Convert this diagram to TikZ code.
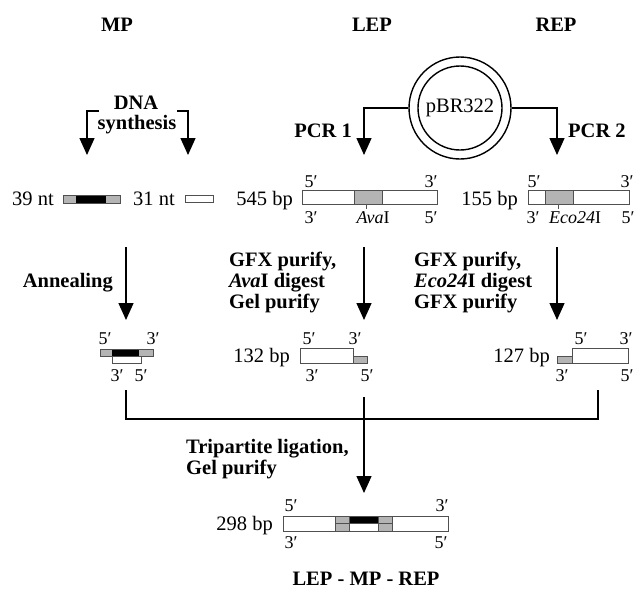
\documentclass[tikz,border=0pt]{standalone}
\usepackage{fontspec}
\setmainfont{Liberation Serif}
\usetikzlibrary{arrows.meta}
\definecolor{segray}{HTML}{B4B4B4}
\definecolor{edgegray}{HTML}{505050}
\tikzset{
  lbl/.style={font=\fontsize{20.5}{23}\selectfont, inner sep=0pt},
  blbl/.style={font=\fontsize{20.5}{23}\selectfont\bfseries, inner sep=0pt},
  endlbl/.style={font=\fontsize{18}{20}\selectfont, inner sep=0pt},
  flow/.style={line width=1.4pt, -{Triangle[width=15pt,length=17pt]}},
  strand/.style={draw=edgegray, line width=0.9pt},
  link/.style={line width=1.4pt},
}
\begin{document}
\begin{tikzpicture}[x=1pt,y=-1pt]
\useasboundingbox (0,0) rectangle (636,592);

% headings
\node[blbl, anchor=base] (hmp) at (117,31) {MP};
\node[blbl, anchor=base] (hlep) at (372,31) {LEP};
\node[blbl, anchor=base] (hrep) at (556,31) {REP};

% DNA synthesis
\node[blbl, anchor=base] (dna) at (136,109) {DNA};
\node[blbl, anchor=base] (synth) at (137,129) {synthesis};
\coordinate (bl0) at (99,111);
\coordinate (bl1) at (87,111);
\coordinate (bl2) at (87,155);
\coordinate (br0) at (177,111);
\coordinate (br1) at (188,111);
\coordinate (br2) at (188,155);
\draw[flow] (bl0) -- (bl1) -- (bl2);
\draw[flow] (br0) -- (br1) -- (br2);

% plasmid
\node[circle, draw, line width=1.4pt, minimum size=102pt, inner sep=0pt] (plasmid) at (460,108) {};
\node[circle, draw, line width=1.4pt, minimum size=84pt, inner sep=0pt, font=\fontsize{20.5}{23}\selectfont] (pbr) at (460,108) {pBR322};
\coordinate (pl1) at (364,108);
\coordinate (pl2) at (364,155);
\coordinate (pr1) at (557,108);
\coordinate (pr2) at (557,155);
\draw[flow] (plasmid.west) -- (pl1) -- (pl2);
\draw[flow] (plasmid.east) -- (pr1) -- (pr2);
\node[blbl, anchor=base east] (pcr1) at (352,137) {PCR 1};
\node[blbl, anchor=base west] (pcr2) at (568,137) {PCR 2};

% row 1 fragments
\node[lbl, anchor=base east] (n39) at (54,205) {39 nt};
\filldraw[strand, fill=segray] (63,195) rectangle (120,203);
\fill[black] (76,195) rectangle (106,203);
\draw[strand] (63,195) rectangle (120,203);
\node[lbl, anchor=base east] (n31) at (175,205) {31 nt};
\draw[strand, fill=white] (185,195) rectangle (213,202);

\node[lbl, anchor=base east] (n545) at (293,205) {545 bp};
\draw[strand] (302,190) rectangle (437,204);
\filldraw[strand, fill=segray] (354,190) rectangle (382,204);
\draw[strand] (366,204) -- (366,209);
\node[endlbl, anchor=base] (a5l) at (311,187) {5′};
\node[endlbl, anchor=base] (a3r) at (431,187) {3′};
\node[endlbl, anchor=base] (a3l) at (311,223) {3′};
\node[endlbl, anchor=base] (a5r) at (431,223) {5′};
\node[endlbl, anchor=base] (ava) at (373,223) {\textit{Ava}I};

\node[lbl, anchor=base east] (n155) at (518,205) {155 bp};
\draw[strand] (528,190) rectangle (629,204);
\filldraw[strand, fill=segray] (545,190) rectangle (573,204);
\draw[strand] (558,204) -- (558,209);
\node[endlbl, anchor=base] (b5l) at (534,187) {5′};
\node[endlbl, anchor=base] (b3r) at (627,187) {3′};
\node[endlbl, anchor=base] (b3l) at (533,223) {3′};
\node[endlbl, anchor=base] (b5r) at (628,223) {5′};
\node[endlbl, anchor=base] (eco) at (575,223) {\textit{Eco24}I};

% row 2 steps
\coordinate (m1) at (126,247);
\coordinate (m2) at (126,320);
\coordinate (l1) at (364,247);
\coordinate (l2) at (364,320);
\coordinate (r1) at (557,247);
\coordinate (r2) at (557,320);
\draw[flow] (m1) -- (m2);
\draw[flow] (l1) -- (l2);
\draw[flow] (r1) -- (r2);
\node[blbl, anchor=base east] (anneal) at (113,287) {Annealing};
\node[blbl, anchor=base west] (ls1) at (229,266) {GFX purify,};
\node[blbl, anchor=base west] (ls2) at (229,287) {\textit{Ava}I digest};
\node[blbl, anchor=base west] (ls3) at (229,308) {Gel purify};
\node[blbl, anchor=base west] (rs1) at (414,266) {GFX purify,};
\node[blbl, anchor=base west] (rs2) at (414,287) {\textit{Eco24}I digest};
\node[blbl, anchor=base west] (rs3) at (414,308) {GFX purify};

% row 2 fragments
\filldraw[strand, fill=segray] (100,349) rectangle (153,356);
\fill[black] (112,349) rectangle (139,356);
\draw[strand] (100,349) rectangle (153,356);
\draw[strand, fill=white] (112,356) rectangle (141,363);
\node[endlbl, anchor=base] (c5) at (105,344) {5′};
\node[endlbl, anchor=base] (c3) at (153,344) {3′};
\node[endlbl, anchor=base] (c3b) at (117,381) {3′};
\node[endlbl, anchor=base] (c5b) at (141,381) {5′};

\node[lbl, anchor=base east] (n132) at (290,362) {132 bp};
\draw[strand] (300,348) rectangle (353,363);
\filldraw[strand, fill=segray] (353,356) rectangle (367,363);
\node[endlbl, anchor=base] (d5) at (309,344) {5′};
\node[endlbl, anchor=base] (d3) at (355,344) {3′};
\node[endlbl, anchor=base] (d3b) at (312,381) {3′};
\node[endlbl, anchor=base] (d5b) at (367,381) {5′};

\node[lbl, anchor=base east] (n127) at (550,362) {127 bp};
\draw[strand] (572,348) rectangle (628,363);
\filldraw[strand, fill=segray] (557,356) rectangle (572,363);
\node[endlbl, anchor=base] (e5) at (581,344) {5′};
\node[endlbl, anchor=base] (e3) at (626,344) {3′};
\node[endlbl, anchor=base] (e3b) at (562,381) {3′};
\node[endlbl, anchor=base] (e5b) at (627,381) {5′};

% ligation
\coordinate (j1) at (126,390);
\coordinate (j2) at (126,419);
\coordinate (j3) at (598,419);
\coordinate (j4) at (598,390);
\draw[link] (j1) -- (j2) -- (j3) -- (j4);
\coordinate (f1) at (364,397);
\coordinate (f2) at (364,493);
\draw[flow] (f1) -- (f2);
\node[blbl, anchor=base west] (lig1) at (186,453) {Tripartite ligation,};
\node[blbl, anchor=base west] (lig2) at (186,474) {Gel purify};

% product
\node[lbl, anchor=base east] (n298) at (273,530) {298 bp};
\draw[strand] (283,516) rectangle (448,531);
\filldraw[strand, fill=segray] (335,516) rectangle (349,531);
\draw[strand] (335,523.5) -- (349,523.5);
\fill[black] (349,516) rectangle (378,523.5);
\draw[strand] (349,516) rectangle (378,531);
\draw[strand] (349,523.5) -- (378,523.5);
\filldraw[strand, fill=segray] (378,516) rectangle (392,531);
\draw[strand] (378,523.5) -- (392,523.5);
\node[endlbl, anchor=base] (g5) at (291,511) {5′};
\node[endlbl, anchor=base] (g3) at (442,511) {3′};
\node[endlbl, anchor=base] (g3b) at (291,548) {3′};
\node[endlbl, anchor=base] (g5b) at (441,548) {5′};
\node[blbl, anchor=base] (final) at (366,585) {LEP - MP - REP};
\end{tikzpicture}
\end{document}
